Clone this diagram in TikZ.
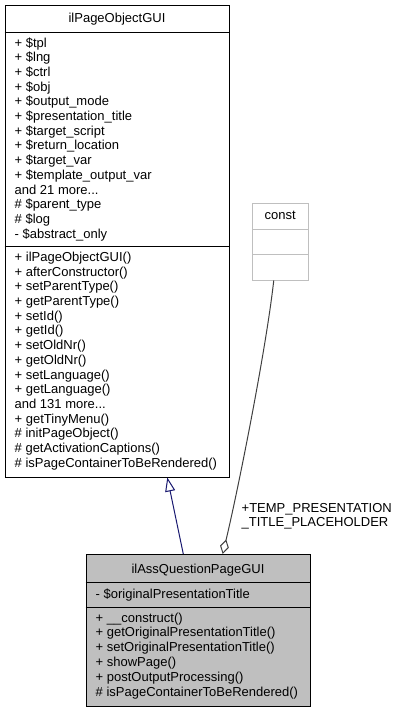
\documentclass[tikz,border=0pt]{standalone}
\usepackage{fontspec}
\setmainfont{Liberation Sans}
\usepackage{xcolor}
\usepackage{tikz}
\usetikzlibrary{arrows.meta}
\usetikzlibrary{calc}
\definecolor{edgegray}{HTML}{404040}
\definecolor{boxgray}{HTML}{BFBFBF}
\definecolor{inheritblue}{HTML}{191970}
\newcommand{\nmore}[1]{and #1 more...}
\tikzset{
 classbox/.style = {draw=black, fill=white, line width=1pt, inner sep=0pt},
 member/.style = {anchor=base west, inner sep=0pt, font=\fontsize{13}{14.7}\selectfont},
 classname/.style = {anchor=base, inner sep=0pt, font=\fontsize{13}{14.7}\selectfont},
 inherit/.style = {inheritblue, line width=1pt, -{Triangle[open, length=14pt, width=10pt]}},
 aggregate/.style = {edgegray, line width=1pt, {Diamond[open, length=15pt, width=9pt]}-},
}

\begin{document}
\begin{tikzpicture}[x=1pt, y=-1pt]
\useasboundingbox (0,0) rectangle (403,712);
\node[classbox, minimum width=224pt, minimum height=472pt] (pogui) at (117,241) {};
\node[classbox, draw=boxgray, minimum width=55.5pt, minimum height=77pt] (constbox) at (280.25,241.5) {};
\node[classbox, fill=boxgray, minimum width=224pt, minimum height=152.2pt] (qgui) at (198,630.6) {};
\foreach \y in {32.3,246.7} \draw[line width=1pt] (pogui.west |- 0,\y) -- (pogui.east |- 0,\y);
\foreach \y in {229,254.5} \draw[boxgray, line width=1pt] (constbox.west |- 0,\y) -- (constbox.east |- 0,\y);
\foreach \y in {582.3,607.3} \draw[line width=1pt] (qgui.west |- 0,\y) -- (qgui.east |- 0,\y);

\node[classname] (poguiname) at (117,22.5) {ilPageObjectGUI};
\foreach \m [count=\i] in {+ \$tpl, + \$lng, + \$ctrl, + \$obj, + \$output\_mode, + \$presentation\_title, + \$target\_script, + \$return\_location, + \$target\_var, + \$template\_output\_var, \nmore{21}, \# \$parent\_type, \# \$log, - \$abstract\_only}
 \node[member] (poguiattr\i) at (14.5, 32.3+14.7*\i) {\m};
\foreach \m [count=\i] in {+ ilPageObjectGUI(), + afterConstructor(), + setParentType(), + getParentType(), + setId(), + getId(), + setOldNr(), + getOldNr(), + setLanguage(), + getLanguage(), \nmore{131}, + getTinyMenu(), \# initPageObject(), \# getActivationCaptions(), \# isPageContainerToBeRendered()}
 \node[member] (poguiop\i) at (14.5, 246.7+14.7*\i) {\m};

\node[classname] (constname) at (280.25,219.5) {const};

\node[classname] (qguiname) at (198,573) {ilAssQuestionPageGUI};
\node[member] (qguiattr) at (95.5,598.5) {- \$originalPresentationTitle};
\foreach \m [count=\i] in {+ \_\_construct(), + getOriginalPresentationTitle(), + setOriginalPresentationTitle(), + showPage(), + postOutputProcessing(), \# isPageContainerToBeRendered()}
 \node[member] (qguiop\i) at (95.5, 607.3+14.8*\i) {\m};

\draw[inherit] ($(qgui.north)+(-14.7,0)$) -- ($(pogui.south)+(50.3,0)$);
\draw[aggregate] ($(qgui.north)+(24.7,0)$) .. controls (238,490) and (266,350) .. ($(constbox.south)+(-6.5,0)$);
\node[member] (aggrlabel1) at (241.5,512.7) {+TEMP\_PRESENTATION};
\node[member] (aggrlabel2) at (241.5,526.5) {\_TITLE\_PLACEHOLDER};
\end{tikzpicture}
\end{document}
